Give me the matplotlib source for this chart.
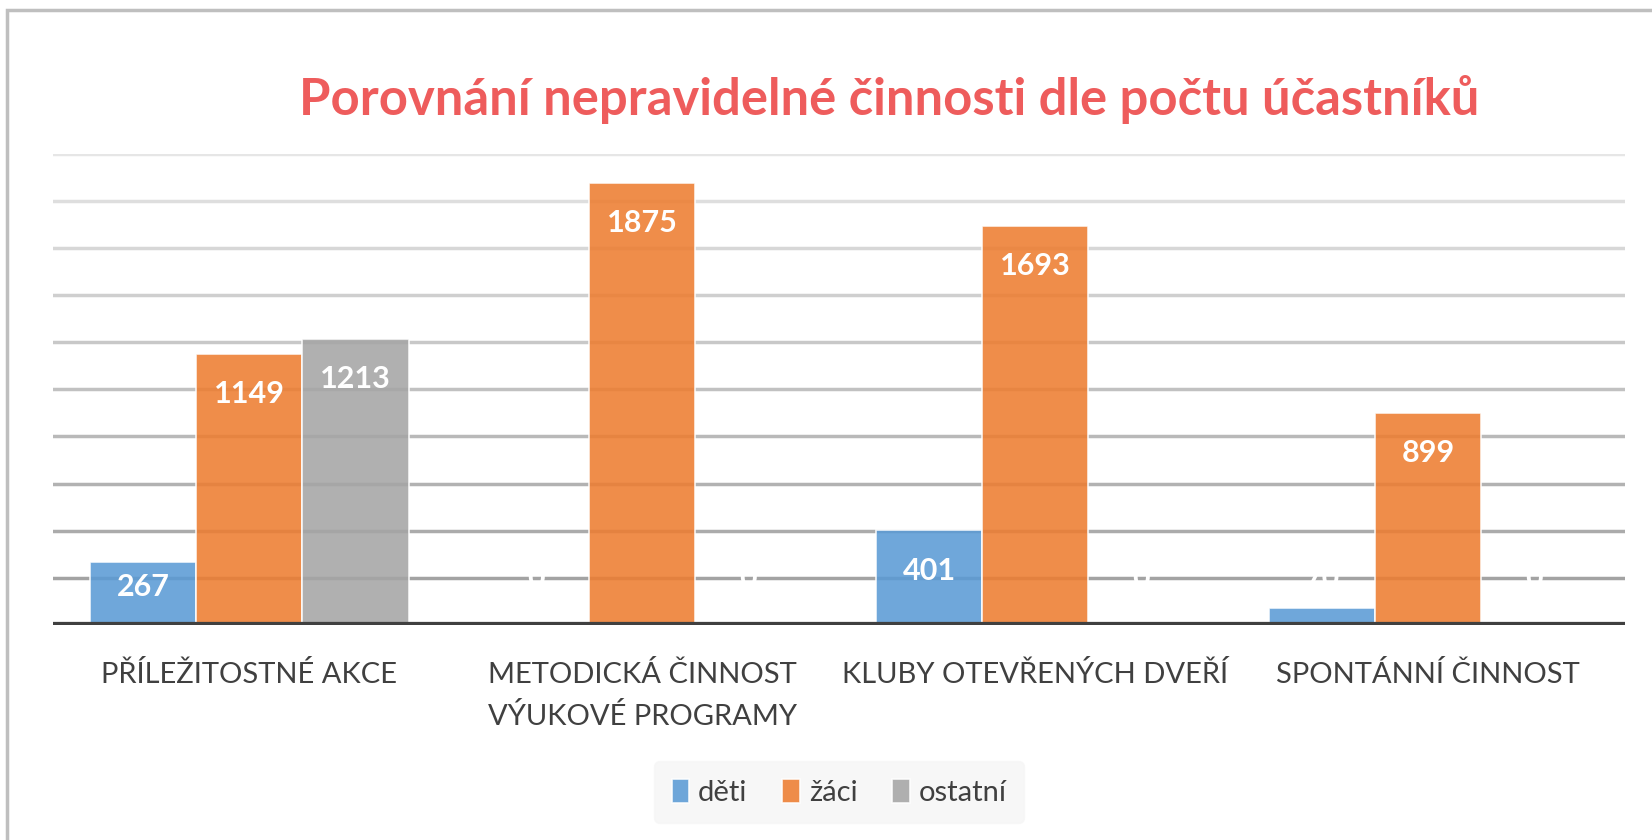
import numpy as np
import matplotlib.pyplot as plt
from matplotlib.patches import Rectangle

plt.rcParams['font.family'] = ['Lato', 'DejaVu Sans']

kategorie = ['PŘÍLEŽITOSTNÉ AKCE', 'METODICKÁ ČINNOST\nVÝUKOVÉ PROGRAMY',
             'KLUBY OTEVŘENÝCH DVEŘÍ', 'SPONTÁNNÍ ČINNOST']
deti = [267, 0, 401, 70]
zaci = [1149, 1875, 1693, 899]
ostatni = [1213, 0, 0, 0]
serie = ['děti', 'žáci', 'ostatní']
barvy = ['#5B9BD5', '#ED7D31', '#A5A5A5']

fig = plt.figure(figsize=(16.52, 8.40), dpi=100)
ax = fig.add_axes([0.032, 0.256, 0.9515, 0.561])

x = np.arange(len(kategorie))
w = 0.27
# mrizka - nahore svetlejsi, dole tmavsi
urovne = np.arange(200, 2001, 200)
for k, u in enumerate(urovne):
    c = 0.64 + 0.26 * k / (len(urovne) - 1)
    ax.axhline(u, color=(c, c, c), lw=2.5, zorder=1)

for i, (vals, nazev, col) in enumerate(zip([deti, zaci, ostatni], serie, barvy)):
    pos = x + (i - 1) * w
    ax.bar(pos, vals, w, color=col, alpha=0.88, edgecolor='white', lw=1.2,
           label=nazev, zorder=2)
    for p, v in zip(pos, vals):
        if v >= 380:
            ly = v - 170
        elif v >= 200:
            ly = v * 0.6
        else:
            ly = 200
        ax.text(p, ly, str(v), ha='center', va='center', color='white',
                fontsize=22, fontweight='bold', zorder=3)

ax.axhline(0, color='#404040', lw=4.5, zorder=4)
ax.set_xlim(-0.5, 3.5)
ax.set_ylim(0, 2000)
ax.set_yticks([])
ax.set_xticks(x)
ax.set_xticklabels(kategorie, fontsize=21, color='#404040', linespacing=1.7)
ax.tick_params(axis='x', length=0, pad=26)
for s in ax.spines.values():
    s.set_visible(False)

fig.text(0.538, 0.882, 'Porovnání nepravidelné činnosti dle počtu účastníků',
         ha='center', va='center', fontsize=36.5, fontweight='bold', color='#EE5C5C')

leg = fig.legend(loc='center', bbox_to_anchor=(0.508, 0.057), ncol=3, fontsize=21,
                 frameon=True, handlelength=0.6, handleheight=0.9, handletextpad=0.3,
                 columnspacing=1.2, borderpad=0.6)
leg.get_frame().set_facecolor('#f6f6f6')
leg.get_frame().set_edgecolor('#f6f6f6')
for t in leg.get_texts():
    t.set_color('#404040')

# ramecek grafu
fig.patches.append(Rectangle((7 / 1652, -0.1), 1.2, 1 - 10 / 840 + 0.1,
                             transform=fig.transFigure, fill=False,
                             edgecolor='#bfbfbf', lw=2.5))

fig.savefig('out.png', dpi=100)
